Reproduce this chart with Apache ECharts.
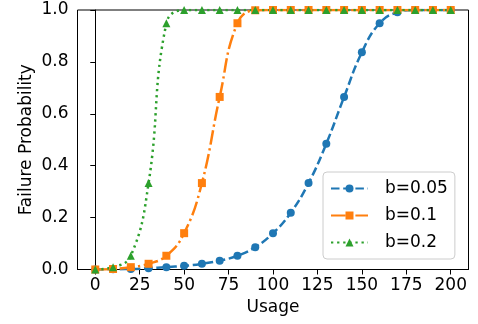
<!DOCTYPE html>
<html>
<head>
<meta charset="utf-8">
<script src="https://cdn.jsdelivr.net/npm/echarts@6/dist/echarts.min.js"></script>
<style>
  html, body { margin: 0; padding: 0; background: #fff; }
  #chart { width: 478px; height: 324px; }
</style>
</head>
<body>
<div id="chart"></div>
<script>
// usage values where markers sit
const usage = [0, 10, 20, 30, 40, 50, 60, 70, 80, 90, 100, 110, 120, 130, 140, 150, 160, 170, 180, 190, 200]
// failure probability
const b005 = [0, 0.001, 0.002, 0.005, 0.009, 0.014, 0.022, 0.034, 0.053, 0.086, 0.14, 0.219, 0.333, 0.485, 0.665, 0.837, 0.949, 0.991, 1.0, 1.0, 1.0]
const b01 = [0, 0.002, 0.009, 0.022, 0.053, 0.14, 0.333, 0.665, 0.949, 0.999, 1, 1, 1, 1, 1, 1, 1, 1, 1, 1, 1]
const b02 = [0, 0.009, 0.053, 0.333, 0.949, 1, 1, 1, 1, 1, 1, 1, 1, 1, 1, 1, 1, 1, 1, 1, 1]
const xTicks = [0, 25, 50, 75, 100, 125, 150, 175, 200]
const seriesNames = ["b=0.05", "b=0.1", "b=0.2"]

const font = "DejaVu Sans"
const pair = (ys) => usage.map((x, i) => [x, ys[i]])

const lineSeries = (name, ys, color, symbol, dash) => ({
    name: name,
    type: "line",
    data: pair(ys),
    smooth: 0.45,
    symbol: symbol,
    symbolSize: 8,
    showAllSymbol: true,
    color: color,
    lineStyle: { width: 2.5, type: dash, color: color },
    itemStyle: { color: color },
    emphasis: { disabled: true },
})

const chart = echarts.init(document.getElementById("chart"), null, { renderer: "canvas" })

chart.setOption({
    animation: false,
    grid: {
        left: 77.5,
        right: 9.5,
        top: 10,
        bottom: 54.5,
        show: true,
        borderColor: "#000",
        borderWidth: 1,
    },
    xAxis: {
        type: "value",
        min: -10,
        max: 210,
        name: "Usage",
        nameLocation: "middle",
        nameGap: 30,
        nameTextStyle: { fontFamily: font, fontSize: 17, color: "#000" },
        axisLine: { lineStyle: { color: "#000", width: 1 } },
        axisTick: { customValues: xTicks, length: 5, lineStyle: { color: "#000", width: 1 } },
        axisLabel: { customValues: xTicks, margin: 8, fontFamily: font, fontSize: 17, color: "#000" },
        splitLine: { show: false },
    },
    yAxis: {
        type: "value",
        min: 0,
        max: 1,
        interval: 0.2,
        name: "Failure Probability",
        nameLocation: "middle",
        nameGap: 42,
        nameMoveOverlap: false,
        nameTextStyle: { fontFamily: font, fontSize: 17, color: "#000" },
        axisLine: { show: true, lineStyle: { color: "#000", width: 1 } },
        axisTick: { show: true, length: 5, lineStyle: { color: "#000", width: 1 } },
        axisLabel: {
            margin: 9,
            fontFamily: font,
            fontSize: 17,
            color: "#000",
            formatter: (v) => v.toFixed(1),
        },
        splitLine: { show: false },
    },
    legend: {
        data: seriesNames,
        orient: "vertical",
        left: 323,
        top: 172,
        padding: [6.5, 7, 6.5, 7],
        itemGap: 7,
        itemWidth: 37,
        itemHeight: 10,
        borderColor: "#cccccc",
        borderWidth: 1,
        borderRadius: 4,
        backgroundColor: "rgba(255,255,255,0.8)",
        textStyle: { fontFamily: font, fontSize: 17, color: "#000", lineHeight: 20, padding: [0, 0, 0, 12] },
    },
    series: [
        lineSeries(seriesNames[0], b005, "#1f77b4", "circle", [8.5, 3.7]),
        lineSeries(seriesNames[1], b01, "#ff7f0e", "rect", [14.7, 3.7, 2.3, 3.7]),
        lineSeries(seriesNames[2], b02, "#2ca02c", "triangle", [2.3, 3.8]),
    ],
})
</script>
</body>
</html>
